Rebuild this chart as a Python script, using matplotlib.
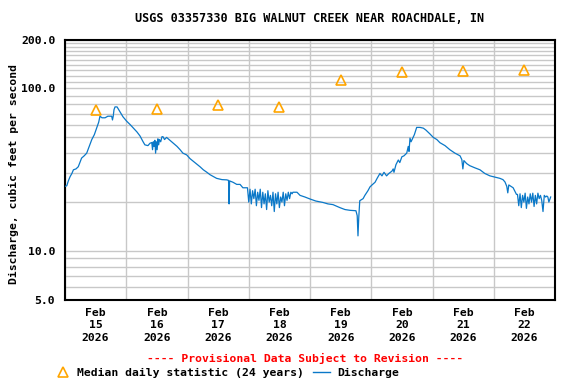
import numpy as np
import matplotlib
matplotlib.use("Agg")
import matplotlib.pyplot as plt
import matplotlib.dates as mdates
from matplotlib.lines import Line2D

plt.rcParams['font.family'] = ['DejaVu Sans Mono']
plt.rcParams['font.weight'] = 'bold'

# ---------------- data ----------------
start = np.datetime64('2026-02-15T00:00')

# discharge, hours since Feb 15 00:00 -> cfs
hours_a = [0, 0.7, 1.3, 2, 2.7, 3.3, 4.3, 5.2, 6.5, 7.5, 8.5, 9.5, 10.5, 11.5, 12.4, 13.2, 13.7,
           14.5, 15.7, 16.8, 17.6, 18.3, 18.6, 18.9, 19.2, 19.6, 20.4, 21.5, 22.7, 24.2, 25.5,
           26.8, 28.2, 29.4, 30.6, 31.3, 32.5, 33.3, 34.0, 34.3, 34.6, 34.9, 35.2, 35.5, 35.8,
           36.1, 36.4, 36.7, 37.0, 37.5, 38.0, 38.4, 39.0, 39.8, 41.1, 42.4, 43.9, 45.1, 46.2,
           47.7, 49.0, 50.9, 52.9, 54.2, 55.6, 56.8, 59.4, 61.5, 63.4, 64.1, 64.3, 64.5, 65.8,
           67.3, 68.6, 69.7, 71.2]
cfs_a = [25, 25.2, 27, 28.7, 30, 31.6, 32, 33, 37.3, 38.5, 40, 44, 48.5, 52, 57, 62, 67.5,
         66, 66, 67.5, 67.5, 67.5, 64, 67.5, 74, 77, 77, 72, 67, 62.8, 60,
         57, 54, 51, 47, 45, 44.5, 46, 46.5, 42, 47, 44, 48, 40, 47,
         42, 49, 45, 48.5, 47, 50.5, 50.5, 48.5, 50, 48, 46, 44, 42, 40,
         39, 37, 35, 33, 31.6, 30.5, 29.5, 28, 27.5, 27.4, 27.2, 19.5, 27, 26.5,
         25.7, 25.7, 24.5, 24.5]

noise1_start, noise1_step = 71.5, 0.5
cfs_noise1 = [24.5, 20, 24, 19.5, 23.5, 21, 24, 19, 23, 20.5, 24, 18.5, 23, 19.5, 22.5, 18,
              23.5, 20, 22, 19, 23, 17.5, 22.5, 19.5, 23, 18.5, 21.5, 20, 23, 19, 22.5, 20.5,
              23, 21, 23, 22.5]

hours_b = [89.3, 90.9, 92.1, 94.0, 96.0, 98.3, 101.1, 103.0, 105.0, 107.7, 109.7, 111.7, 114.0,
           114.5, 114.8, 115.1, 115.5, 116.8, 117.5, 118.7, 119.5, 120.3, 121.5, 122.3, 123.4,
           124.2, 125.0, 126.0, 126.9, 128.1, 128.6, 128.9, 129.7, 130.6, 131.2, 132.0, 132.8,
           133.9, 134.5, 134.8, 135.2, 135.6, 136.5, 136.9, 137.8, 139.1, 140.4, 141.4, 143.0,
           144.3, 145.7, 146.9, 148.9, 150.8, 152.8, 154.8, 155.5, 155.9, 156.3, 157.4, 158.6,
           160.6, 162.6, 164.5, 166.5, 168.4, 170.4, 171.6, 172.4, 173.1, 173.5, 173.9, 175.6,
           176.9]
cfs_b = [23, 23, 22, 21.5, 20.9, 20.3, 19.9, 19.5, 19.3, 18.5, 18.0, 17.8, 17.7,
         16.5, 12.4, 16, 20.4, 21, 22, 23.5, 24.8, 25.5, 26.5, 28, 30,
         29, 30.5, 29, 30, 31, 32, 30.5, 34, 36.3, 35, 38, 38.5,
         40, 44, 41, 49.5, 47, 50.5, 52, 57.6, 57.6, 57, 55.5, 52.5,
         50, 48.5, 46.4, 44.5, 42, 40, 38.5, 36.5, 32, 36, 34.5, 33.5,
         32.5, 31.6, 30, 29, 28.5, 28, 27.5, 26.6, 25, 22.8, 25.5, 24.5,
         22.3]

noise2_start, noise2_step = 177.3, 0.5
cfs_noise2 = [22.3, 19, 22.5, 18.5, 22, 20, 22.7, 18.3, 21.5, 19.5, 22.5, 20, 22.7, 18.8,
              22, 19.5, 22.7, 21, 22, 20.5, 17.5, 22, 21.5, 21.8]

hours_c = [189.2, 189.6, 190.3]
cfs_c = [21.5, 20, 21.5]

# median daily statistic (at noon of each day)
median_days = ['2026-02-15T12:00', '2026-02-16T12:00', '2026-02-17T12:00', '2026-02-18T12:00',
               '2026-02-19T12:00', '2026-02-20T12:00', '2026-02-21T12:00', '2026-02-22T12:00']
median_cfs = [74, 75, 79, 77, 113, 126, 128, 130]

# ---------------- assemble ----------------
h_n1 = noise1_start + noise1_step * np.arange(len(cfs_noise1))
h_n2 = noise2_start + noise2_step * np.arange(len(cfs_noise2))
hours = np.concatenate([hours_a, h_n1, hours_b, h_n2, hours_c])
cfs = np.concatenate([cfs_a, cfs_noise1, cfs_b, cfs_noise2, cfs_c])
times = start + (hours * 60).astype(int).astype('timedelta64[m]')
times = times.astype('datetime64[ms]').astype(object)
mtimes = np.array(median_days, dtype='datetime64[m]').astype('datetime64[ms]').astype(object)

# ---------------- plot ----------------
fig = plt.figure(figsize=(5.76, 3.84), dpi=100)
ax = fig.add_axes([65/576, 84/384, 490/576, 260.5/384])

blue = '#0a78c8'
orange = '#ffa500'
gridc = '#c8c8c8'
fs = 8.2

ax.plot(times, cfs, color=blue, lw=0.9, zorder=3)
ax.plot(mtimes, median_cfs, linestyle='none', marker='^', ms=7, mfc='none',
        mec=orange, mew=1.2, zorder=4)

ax.set_yscale('log')
ax.set_ylim(5, 200)
ax.set_yticks([5, 10, 100, 200])
ax.set_yticklabels(['5.0', '10.0', '100.0', '200.0'])
minor_y = [6, 7, 8, 9, 20, 30, 40, 50, 60, 70, 80, 90,
           110, 120, 130, 140, 150, 160, 170, 180, 190]
ax.set_yticks(minor_y, minor=True)
ax.yaxis.set_minor_formatter(matplotlib.ticker.NullFormatter())

ax.set_xlim(np.datetime64('2026-02-15T00:00').astype(object),
            np.datetime64('2026-02-23T00:00').astype(object))
ax.xaxis.set_major_locator(mdates.DayLocator())
ax.xaxis.set_major_formatter(matplotlib.ticker.NullFormatter())
ax.xaxis.set_minor_locator(mdates.HourLocator(byhour=[12]))
ax.xaxis.set_minor_formatter(mdates.DateFormatter('%b\n%d\n%Y'))

ax.grid(True, which='both', axis='y', color=gridc, lw=1.0, zorder=0)
ax.grid(True, which='major', axis='x', color=gridc, lw=1.0, zorder=0)
ax.set_axisbelow(True)

ax.tick_params(axis='both', which='both', length=0)
ax.tick_params(axis='x', which='minor', pad=6, labelsize=fs)
ax.tick_params(axis='y', which='major', pad=7, labelsize=fs)
for lbl in ax.xaxis.get_minorticklabels():
    lbl.set_linespacing(1.27)
    lbl.set_fontweight('bold')
for lbl in ax.get_yticklabels():
    lbl.set_fontweight('bold')

for s in ax.spines.values():
    s.set_linewidth(1.5)
    s.set_color('black')

ax.set_ylabel('Discharge, cubic feet per second', fontsize=fs, fontweight='bold')
ax.yaxis.set_label_coords(-0.094, 0.482)

fig.text(310/576, 1 - 19/384, 'USGS 03357330 BIG WALNUT CREEK NEAR ROACHDALE, IN',
         ha='center', va='center', fontsize=8.5, fontweight='bold')

fig.text(305/576, 1 - 358/384, '---- Provisional Data Subject to Revision ----',
         ha='center', va='center', fontsize=fs, fontweight='bold', color='red')

# legend row
ly = 1 - 373/384
fig.add_artist(Line2D([63/576], [ly + 1/384], transform=fig.transFigure, marker='^', ms=7,
                      mfc='none', mec=orange, mew=1.2, linestyle='none'))
fig.text(77/576, ly, 'Median daily statistic (24 years)', ha='left', va='center',
         fontsize=fs, fontweight='bold')
fig.add_artist(Line2D([313/576, 330/576], [ly + 1/384, ly + 1/384], transform=fig.transFigure,
                      color=blue, lw=1.0))
fig.text(337/576, ly, 'Discharge', ha='left', va='center', fontsize=fs, fontweight='bold')

fig.savefig('out.png', dpi=100)
